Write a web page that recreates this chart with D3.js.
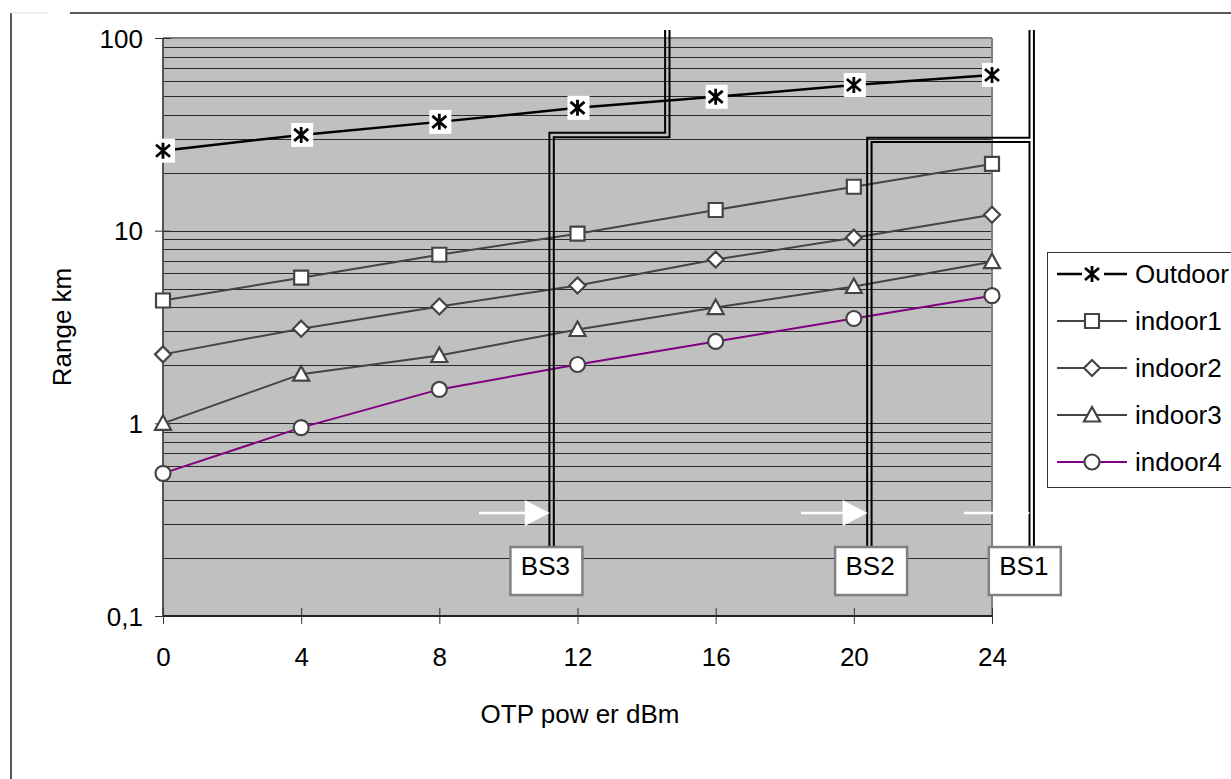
<!DOCTYPE html>
<html>
<head>
<meta charset="utf-8">
<script src="https://cdn.jsdelivr.net/npm/d3@7"></script>
<style>
  body { margin: 0; background: #fff; }
  text { font-family: "Liberation Sans", Arial, sans-serif; }
</style>
</head>
<body>
<div id="chart"></div>
<script>
// DATA (range in km vs output power in dBm)
const power = [0, 4, 8, 12, 16, 20, 24];
const outdoor = [26.0, 31.4, 36.7, 43.4, 49.5, 57.0, 64.3];
const indoor1 = [4.34, 5.7, 7.5, 9.65, 12.8, 16.9, 22.2];
const indoor2 = [2.28, 3.1, 4.04, 5.19, 7.08, 9.2, 12.1];
const indoor3 = [1.0, 1.8, 2.25, 3.07, 3.99, 5.13, 6.9];
const indoor4 = [0.55, 0.95, 1.5, 2.02, 2.66, 3.5, 4.6];
const seriesNames = ["Outdoor", "indoor1", "indoor2", "indoor3", "indoor4"];

const xTicks = [0, 4, 8, 12, 16, 20, 24];
const yTicks = [0.1, 1, 10, 100];
const yTickLabels = ["0,1", "1", "10", "100"];

// base station markers (in data units: dBm, km)
const bsLabels = ["BS3", "BS2", "BS1"];
const bsPaths = [
    [[11.25, 0.13], [11.25, 31.4], [14.6, 31.4], [14.6, 110]],
    [[20.45, 0.13], [20.45, 29.6], [25.15, 29.6]],
    [[25.15, 0.13], [25.15, 110]]
];
const bsBoxX = [11.1, 20.5, 24.95];
const arrowFrom = [9.15, 18.47, 23.19];
const arrowTo = [11.2, 20.4, 25.1];
const arrowKm = 0.342;
const boxTopKm = 0.228;

const W = 1231, H = 779;
const plot = { left: 163, right: 992, top: 38, bottom: 616 };
const FS = "26px";

const svg = d3.select("#chart").append("svg")
    .attr("width", W)
    .attr("height", H);

// SCALES
const x = d3.scaleLinear().domain([0, 24]).range([plot.left, plot.right]);
const y = d3.scaleLog().domain([0.1, 100]).range([plot.bottom, plot.top]);

// outer frame bits
svg.append("line").attr("x1", 11).attr("x2", 11).attr("y1", 13).attr("y2", H)
    .attr("stroke", "#222").attr("stroke-width", 1.5);
svg.append("line").attr("x1", 70).attr("x2", W).attr("y1", 13).attr("y2", 13)
    .attr("stroke", "#222").attr("stroke-width", 1.5);
svg.append("line").attr("x1", 11).attr("x2", 47).attr("y1", 13).attr("y2", 13)
    .attr("stroke", "#ddd").attr("stroke-width", 1);

// plot area
svg.append("rect")
    .attr("x", plot.left).attr("y", plot.top)
    .attr("width", plot.right - plot.left).attr("height", plot.bottom - plot.top)
    .attr("fill", "#c0c0c0");

// GRID (every log tick)
svg.append("g").selectAll("line")
    .data(y.ticks().filter(d => d > 0.1 && d < 100))
    .join("line")
    .attr("x1", plot.left).attr("x2", plot.right)
    .attr("y1", d => Math.round(y(d)) + 0.5).attr("y2", d => Math.round(y(d)) + 0.5)
    .attr("stroke", "#2a2a2a").attr("stroke-width", 1);

// borders
svg.append("line").attr("x1", plot.left).attr("x2", plot.right).attr("y1", plot.top).attr("y2", plot.top)
    .attr("stroke", "#808080").attr("stroke-width", 2);
svg.append("line").attr("x1", plot.right).attr("x2", plot.right).attr("y1", plot.top).attr("y2", plot.bottom)
    .attr("stroke", "#808080").attr("stroke-width", 2);

// AXES
const yAxis = svg.append("g")
    .attr("transform", "translate(" + plot.left + ",0)")
    .call(d3.axisLeft(y).tickValues(yTicks).tickSize(8).tickFormat((d, i) => yTickLabels[i]));
const xAxis = svg.append("g")
    .attr("transform", "translate(0," + plot.bottom + ")")
    .call(d3.axisBottom(x).tickValues(xTicks).tickSize(8).tickFormat(d => d));

yAxis.select(".domain").attr("stroke", "#555").attr("stroke-width", 2).attr("d", "M0," + plot.top + "V" + plot.bottom);
xAxis.select(".domain").attr("stroke", "#222").attr("stroke-width", 2).attr("d", "M" + plot.left + ",0H" + plot.right);
yAxis.selectAll(".tick line").attr("x1", 8).attr("x2", -8).attr("stroke", "#333");
xAxis.selectAll(".tick line").attr("y1", -8).attr("y2", 8).attr("stroke", "#333");
yAxis.selectAll(".tick text")
    .attr("x", -20).attr("dy", "0.35em")
    .style("font-size", FS).attr("fill", "#000");
xAxis.selectAll(".tick text")
    .attr("y", 41).attr("dy", "0.35em")
    .style("font-size", FS).attr("fill", "#000");

// AXES LABELS
svg.append("text")
    .text("Range km")
    .attr("transform", "translate(62," + (plot.top + plot.bottom) / 2 + ") rotate(-90)")
    .attr("text-anchor", "middle").attr("dy", "0.35em")
    .style("font-size", FS);
svg.append("text")
    .text("OTP pow er dBm")
    .attr("x", 580).attr("y", 714)
    .attr("text-anchor", "middle").attr("dy", "0.35em")
    .style("font-size", FS);

// SERIES
const seriesValues = [outdoor, indoor1, indoor2, indoor3, indoor4];
const lineColors = ["#000", "#444", "#444", "#444", "#800080"];
const lineWidths = [2.5, 2, 2, 2, 2];
const markerTypes = ["star", "square", "diamond", "triangle", "circle"];

const markerPath = {
    star: "M0,-8V8M-7,-6L7,6M-7,6L7,-6",
    square: "M-7,-7H7V7H-7Z",
    diamond: "M0,-8L8,0L0,8L-8,0Z",
    triangle: "M0,-8L8,6.5H-8Z",
    circle: d3.symbol(d3.symbolCircle, Math.PI * 7.5 * 7.5)()
};

const line = d3.line()
    .x((d, i) => x(power[i]))
    .y(d => y(d));

const series = seriesNames.map((name, k) => ({
    name: name, values: seriesValues[k], color: lineColors[k],
    width: lineWidths[k], marker: markerTypes[k]
}));

svg.append("g").selectAll("path")
    .data(series)
    .join("path")
    .attr("d", d => line(d.values))
    .attr("fill", "none")
    .attr("stroke", d => d.color)
    .attr("stroke-width", d => d.width);

function drawMarker(g, type) {
    if (type === "star") {
        g.append("rect").attr("x", -10).attr("y", -12).attr("width", 22).attr("height", 24).attr("fill", "#fff");
        g.append("path").attr("d", markerPath.star).attr("fill", "none")
            .attr("stroke", "#000").attr("stroke-width", 2.8);
    } else {
        g.append("path").attr("d", markerPath[type]).attr("fill", "#fff")
            .attr("stroke", "#444").attr("stroke-width", 2.2);
    }
}

series.forEach(s => {
    svg.append("g").selectAll("g")
        .data(s.values)
        .join("g")
        .attr("transform", (d, i) => "translate(" + x(power[i]) + "," + y(d) + ")")
        .each(function () { drawMarker(d3.select(this), s.marker); });
});

// BASE STATION double lines (black stroke with a masked centre gap)
const bsLine = d3.line().x(d => x(d[0])).y(d => y(d[1]));
const mask = svg.append("defs").append("mask")
    .attr("id", "gap").attr("maskUnits", "userSpaceOnUse")
    .attr("x", 0).attr("y", 0).attr("width", W).attr("height", H);
mask.append("rect").attr("width", W).attr("height", H).attr("fill", "#fff");
mask.selectAll("path").data(bsPaths).join("path")
    .attr("d", bsLine).attr("fill", "none")
    .attr("stroke", "#000").attr("stroke-width", 2.4);

svg.append("g").attr("mask", "url(#gap)")
    .selectAll("path").data(bsPaths).join("path")
    .attr("d", bsLine).attr("fill", "none")
    .attr("stroke", "#000").attr("stroke-width", 6.4)
    .attr("stroke-linejoin", "miter");

// white arrows
bsLabels.forEach((lab, i) => {
    const ay = y(arrowKm);
    const head = i === 2 ? 4 : 25;
    const hh = i === 2 ? 3 : 13;
    const x0 = x(arrowFrom[i]), x1 = x(arrowTo[i]);
    svg.append("line")
        .attr("x1", x0).attr("x2", x1 - head + 1)
        .attr("y1", ay).attr("y2", ay)
        .attr("stroke", "#fff").attr("stroke-width", 2.5);
    svg.append("path")
        .attr("d", "M" + (x1 - head) + "," + (ay - hh) + "L" + x1 + "," + ay + "L" + (x1 - head) + "," + (ay + hh) + "Z")
        .attr("fill", "#fff");
});

// label boxes
const boxW = 72, boxH = 48;
const boxes = svg.append("g").selectAll("g")
    .data(bsLabels)
    .join("g")
    .attr("transform", (d, i) => "translate(" + (x(bsBoxX[i]) - boxW / 2) + "," + y(boxTopKm) + ")");
boxes.append("rect")
    .attr("width", boxW).attr("height", boxH)
    .attr("fill", "#fff").attr("stroke", "#808080").attr("stroke-width", 2.5);
boxes.append("text")
    .text(d => d)
    .attr("x", boxW / 2 - 1).attr("y", 28)
    .attr("text-anchor", "middle")
    .style("font-size", FS);

// LEGEND
const legend = svg.append("g").attr("transform", "translate(1047,252)");
legend.append("rect")
    .attr("x", 0.5).attr("y", 0.5).attr("width", 200).attr("height", 235)
    .attr("fill", "#fff").attr("stroke", "#333").attr("stroke-width", 1);
const rows = legend.selectAll("g.row")
    .data(series)
    .join("g")
    .attr("class", "row")
    .attr("transform", (d, i) => "translate(0," + (22 + i * 47) + ")");
rows.append("line")
    .attr("x1", 10).attr("x2", 80).attr("y1", 0).attr("y2", 0)
    .attr("stroke", d => d.color).attr("stroke-width", d => d.width);
rows.append("g")
    .attr("transform", "translate(45,0)")
    .each(function (d) { drawMarker(d3.select(this), d.marker); });
rows.append("text")
    .text(d => d.name)
    .attr("x", 88).attr("dy", "0.35em")
    .style("font-size", FS);
</script>
</body>
</html>
